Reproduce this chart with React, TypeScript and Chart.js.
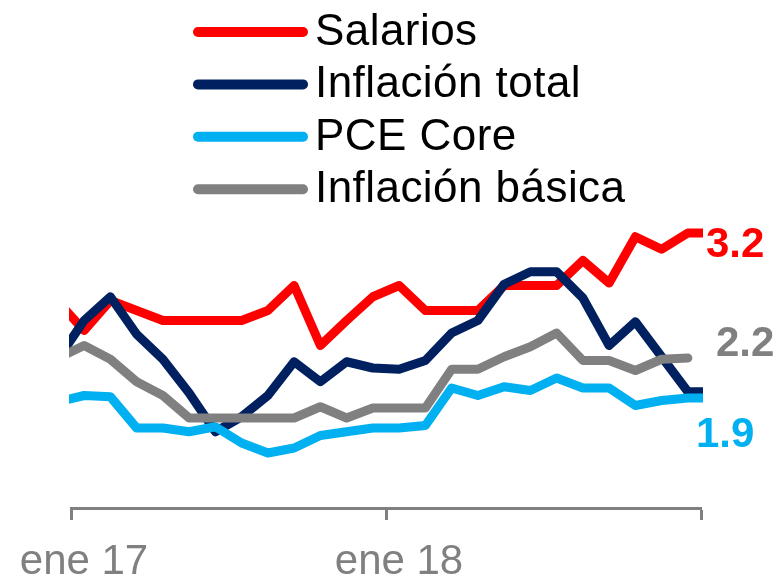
import React, { useEffect, useRef } from 'react';
import { Chart, registerables } from 'chart.js';

Chart.register(...registerables);

// Months: first (dic 16) and last (ene 19) only partly visible at the clipped edges
const months = [
  'dic 16',
  'ene 17', 'feb 17', 'mar 17', 'abr 17', 'may 17', 'jun 17', 'jul 17', 'ago 17', 'sep 17', 'oct 17', 'nov 17', 'dic 17',
  'ene 18', 'feb 18', 'mar 18', 'abr 18', 'may 18', 'jun 18', 'jul 18', 'ago 18', 'sep 18', 'oct 18', 'nov 18', 'dic 18',
  'ene 19',
];

const salarios = [2.65,
  2.42, 2.66, 2.58, 2.50, 2.50, 2.50, 2.50, 2.58, 2.78, 2.30, 2.50, 2.69,
  2.78, 2.58, 2.58, 2.58, 2.78, 2.78, 2.78, 2.98, 2.80, 3.17, 3.07, 3.20,
  3.20];

const inflacionTotal = [2.19,
  2.50, 2.69, 2.39, 2.19, 1.92, 1.61, 1.73, 1.90, 2.17, 2.01, 2.17, 2.12,
  2.11, 2.18, 2.40, 2.50, 2.79, 2.89, 2.89, 2.68, 2.30, 2.49, 2.21, 1.93,
  1.93];

const pceCore = [1.85,
  1.90, 1.89, 1.64, 1.64, 1.61, 1.65, 1.52, 1.44, 1.48, 1.58, 1.61, 1.64,
  1.64, 1.66, 1.96, 1.90, 1.97, 1.94, 2.04, 1.96, 1.96, 1.82, 1.86, 1.88,
  1.88];

const inflacionBasica = [2.20,
  2.30, 2.19, 2.01, 1.90, 1.72, 1.72, 1.72, 1.72, 1.72, 1.81, 1.72, 1.80,
  1.80, 1.80, 2.11, 2.11, 2.21, 2.29, 2.40, 2.18, 2.18, 2.10, 2.19, 2.20,
  null];

const seriesNames = ['Salarios', 'Inflación total', 'PCE Core', 'Inflación básica'];
const seriesValues = [salarios, inflacionTotal, pceCore, inflacionBasica];
const seriesColors = ['#FF0000', '#002060', '#00B0F0', '#808080'];
const seriesOrder = [4, 3, 2, 1]; // red at the bottom, gray on top

const FONT = "'Liberation Sans', Arial, Helvetica, sans-serif";

// visible categories: ene 17 .. dic 18 -> x 0..23 ; array index = x + 1
const firstVisible = 1;
const lastVisible = months.length - 2;

// ticks at the boundary before each January
const tickValues = months
  .map((m, i) => (m.startsWith('ene') ? i - 1 - 0.5 : null))
  .filter((v) => v !== null) as number[];

const endLabels = [
  { ds: 0, dx: 18, dy: 24 },
  { ds: 3, dx: 28, dy: -2 },
  { ds: 2, dx: 8, dy: 49 },
];

const legendPlugin = {
  id: 'sideLegend',
  afterDraw(chart: any) {
    const ctx = chart.ctx;
    ctx.save();
    seriesNames.forEach((name, i) => {
      const y = 32 + i * 52.4;
      ctx.beginPath();
      ctx.lineWidth = 10;
      ctx.lineCap = 'round';
      ctx.strokeStyle = seriesColors[i];
      ctx.moveTo(198, y);
      ctx.lineTo(303, y);
      ctx.stroke();
      ctx.fillStyle = '#000000';
      ctx.font = `44px ${FONT}`;
      ctx.textAlign = 'left';
      ctx.textBaseline = 'alphabetic';
      try { ctx.letterSpacing = '0.45px'; } catch (e) { /* ignore */ }
      ctx.fillText(name, 315, y + 13);
      try { ctx.letterSpacing = '0px'; } catch (e) { /* ignore */ }
    });
    ctx.restore();
  },
};

const endLabelPlugin = {
  id: 'endLabels',
  afterDatasetsDraw(chart: any) {
    const ctx = chart.ctx;
    ctx.save();
    endLabels.forEach(({ ds, dx, dy }) => {
      const vals = seriesValues[ds];
      let idx = lastVisible;
      while (idx > 0 && vals[idx] == null) idx--;
      const meta = chart.getDatasetMeta(ds);
      const pt = meta.data[idx];
      if (!pt) return;
      ctx.fillStyle = seriesColors[ds];
      ctx.font = `bold 42px ${FONT}`;
      ctx.textAlign = 'left';
      ctx.textBaseline = 'alphabetic';
      ctx.fillText((vals[idx] as number).toFixed(1), pt.x + dx, pt.y + dy);
    });
    ctx.restore();
  },
};

export default function App() {
  const ref = useRef<HTMLCanvasElement>(null);

  useEffect(() => {
    if (!ref.current) return;
    const chart = new Chart(ref.current, {
      type: 'line',
      data: {
        datasets: seriesValues.map((vals, s) => ({
          label: seriesNames[s],
          data: vals.map((v, i) => ({ x: i - 1, y: v })),
          borderColor: seriesColors[s],
          backgroundColor: seriesColors[s],
          borderWidth: 9,
          borderCapStyle: 'round',
          borderJoinStyle: 'round',
          pointRadius: 0,
          pointHoverRadius: 0,
          tension: 0,
          fill: false,
          order: seriesOrder[s],
          clip: 2,
        })) as any,
      },
      options: {
        animation: false,
        responsive: true,
        maintainAspectRatio: false,
        layout: { padding: { left: 71, right: 82, top: 8, bottom: 0 } },
        plugins: {
          legend: { display: false },
          tooltip: { enabled: false },
        },
        scales: {
          x: {
            type: 'linear',
            min: -0.5,
            max: lastVisible - 0.5,
            afterBuildTicks: (s: any) => {
              s.ticks = tickValues.map((v) => ({ value: v }));
            },
            afterFit: (s: any) => {
              s.height = 70;
              s.paddingLeft = 0;
              s.paddingRight = 0;
            },
            grid: {
              drawOnChartArea: false,
              drawTicks: true,
              tickLength: 12,
              tickWidth: 3,
              tickColor: '#808080',
            },
            border: { display: true, color: '#808080', width: 3 },
            ticks: {
              autoSkip: false,
              maxRotation: 0,
              minRotation: 0,
              padding: 17,
              labelOffset: 13,
              color: '#808080',
              font: { family: FONT, size: 42 },
              callback: (value: any) => {
                const idx = Math.round(Number(value) + 0.5) + 1;
                return idx >= firstVisible && idx <= lastVisible ? months[idx] : '';
              },
            },
          },
          y: {
            display: false,
            min: 1,
            max: 5,
          },
        },
      },
      plugins: [legendPlugin, endLabelPlugin],
    });
    return () => chart.destroy();
  }, []);

  return (
    <div style={{ position: 'absolute', left: 0, top: 0, width: 783, height: 578 }}>
      <canvas ref={ref} />
    </div>
  );
}
